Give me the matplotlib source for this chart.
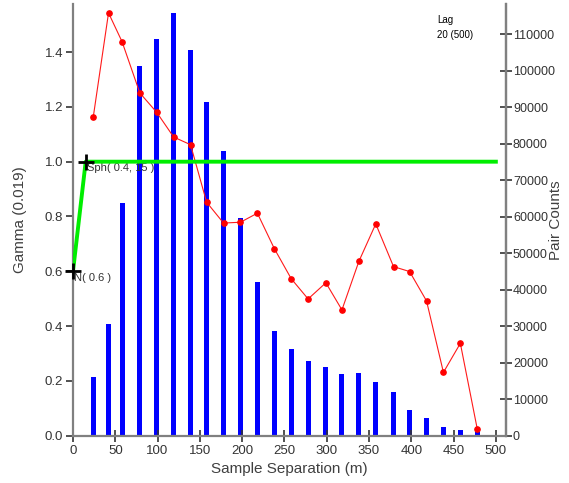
import matplotlib
matplotlib.use('Agg')
import matplotlib.pyplot as plt

plt.rcParams['font.family'] = ['Liberation Sans', 'DejaVu Sans']

# lag centres (m), semivariance and pair counts per lag
lags = [24, 42, 58, 79, 99, 119, 139, 158, 178, 198, 218, 238,
        258, 278, 299, 318, 338, 358, 379, 398, 418, 438, 458, 478]
gamma = [1.164, 1.543, 1.438, 1.251, 1.180, 1.090, 1.062, 0.852,
         0.776, 0.779, 0.812, 0.683, 0.573, 0.499, 0.558, 0.459,
         0.636, 0.773, 0.617, 0.599, 0.492, 0.231, 0.337, 0.0245]
pairs = [16200, 30700, 63850, 101300, 108800, 115700, 105800, 91400,
         77900, 59600, 42000, 28700, 23700, 20400, 18800, 16900,
         17200, 14800, 11950, 6960, 4770, 2380, 1480, 930]

# fitted model: nugget 0.6 + spherical(0.4, 15)
model_h = [0, 15, 500]
model_g = [0.6, 1.0, 1.0]
nugget = 0.6
sph_sill = 0.4
sph_range = 15

gray = '#808080'
txt = '#333333'

fig = plt.figure(figsize=(5.69, 4.83), dpi=100)
ax = fig.add_axes([0.1283, 0.098, 0.761, 0.8937])
ax2 = ax.twinx()
ax.set_zorder(2)
ax.patch.set_visible(False)

ax2.bar(lags, pairs, width=6, color='#0000ff', zorder=2)

ax.plot(lags, gamma, '-', color='#ff1a1a', lw=0.8, marker='o', ms=3.8,
        mec='#ff0000', mfc='#ff0000', zorder=3)
ax.plot(model_h, model_g, color='#00ee00', lw=2.8, zorder=4)
ax.plot([0, sph_range], [nugget, nugget + sph_sill], '+', color='black',
        ms=11, mew=2.0, zorder=5, clip_on=False)
ax.text(1.5, nugget - 0.005, 'N( 0.6 )', fontsize=8, color=txt,
        ha='left', va='top')
ax.text(sph_range + 2, nugget + sph_sill - 0.005, 'Sph( 0.4, 15 )',
        fontsize=8, color=txt, ha='left', va='top')

ax.set_xlim(0, 512)
ax.set_ylim(0, 1.5755)
ax2.set_ylim(0, 118300)

ax.set_xticks(range(0, 501, 50))
ax.set_yticks([0.0, 0.2, 0.4, 0.6, 0.8, 1.0, 1.2, 1.4])
ax.set_yticklabels(['%.1f' % v for v in ax.get_yticks()])
ax2.set_yticks(range(0, 110001, 10000))

for a in (ax, ax2):
    a.spines['top'].set_visible(False)
    for s in ('left', 'right', 'bottom'):
        a.spines[s].set_color(gray)
        a.spines[s].set_linewidth(1.6)
ax2.spines['left'].set_visible(False)
ax2.spines['bottom'].set_visible(False)

ax.tick_params(axis='x', direction='inout', length=8, width=1.2,
               color='#333333', labelsize=9.5, labelcolor=txt, pad=3)
ax.tick_params(axis='y', direction='out', length=5, width=1.2,
               color='#333333', labelsize=9.5, labelcolor=txt, pad=2)
ax2.tick_params(axis='y', direction='inout', length=8, width=1.2,
                color='#333333', labelsize=9, labelcolor=txt, pad=1)

ax.set_xlabel('Sample Separation (m)', fontsize=11, color='#404040',
              labelpad=3)
ax.set_ylabel('Gamma (0.019)', fontsize=11, color='#404040')
ax2.set_ylabel('Pair Counts', fontsize=11, color='#404040')
ax.yaxis.set_label_coords(-0.106, 0.5)
ax2.yaxis.set_label_coords(1.099, 0.5)

fig.text(437 / 569, 1 - 20 / 483, 'Lag', fontsize=7, color='black',
         va='center')
fig.text(437 / 569, 1 - 35 / 483, '20 (500)', fontsize=7, color='black',
         va='center')

fig.savefig('out.png', dpi=100)
